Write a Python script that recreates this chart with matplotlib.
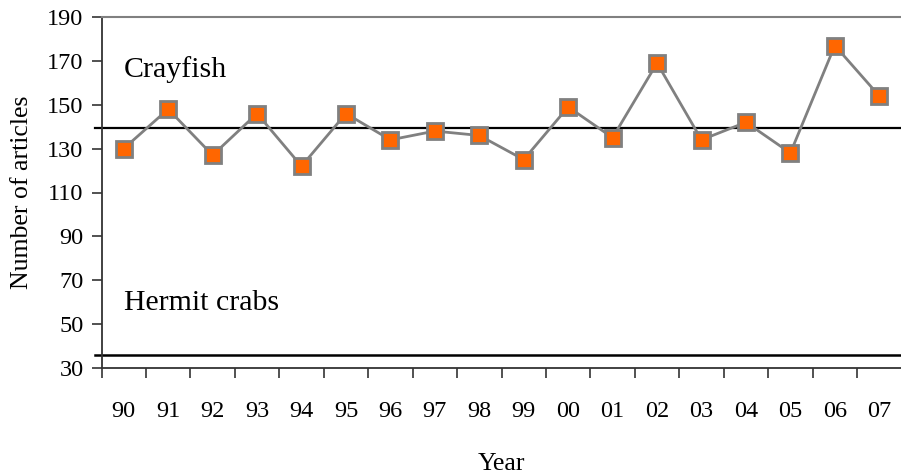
import matplotlib.pyplot as plt
import numpy as np

years = ["90", "91", "92", "93", "94", "95", "96", "97", "98", "99",
         "00", "01", "02", "03", "04", "05", "06", "07"]
crayfish = [130, 148, 127, 146, 122, 146, 134, 138, 136, 125,
            149, 135, 169, 134, 142, 128, 177, 154]
crayfish_level = 139.3
hermit_level = 36

plt.rcParams["font.family"] = ["Liberation Serif", "DejaVu Serif"]

fig = plt.figure(figsize=(9.01, 4.74), dpi=100)
ax = fig.add_axes([101.5 / 901, 1 - 368 / 474, 800 / 901, 351 / 474])

x = np.arange(len(years))
ax.plot(x, crayfish, color="#808080", lw=2, marker="s", markersize=11,
        markerfacecolor="#FF6600", markeredgecolor="#808080", markeredgewidth=2,
        zorder=3)

# reference lines run a little past the y axis
ax.plot([-0.65, len(years) - 0.5], [crayfish_level] * 2, color="black", lw=1.6,
        clip_on=False, zorder=2)
ax.plot([-0.65, len(years) - 0.5], [hermit_level] * 2, color="black", lw=1.8,
        clip_on=False, zorder=2)

ax.text(0.0, 166, "Crayfish", fontsize=21.5, ha="left", va="center")
ax.text(0.0, 59.5, "Hermit crabs", fontsize=21.5, ha="left", va="center")

ax.set_xlim(-0.5, len(years) - 0.5)
ax.set_ylim(30, 190)
ax.set_yticks(range(30, 191, 20))
ax.set_xticks(x)
ax.set_xticklabels(years)
ax.set_xticks(np.arange(-0.5, len(years), 1), minor=True)
ax.tick_params(axis="x", which="major", length=0, pad=24, labelsize=17.5)
ax.tick_params(axis="x", which="minor", length=7, width=1.2, color="#333333")
ax.tick_params(axis="y", length=7, width=1.2, pad=6, labelsize=17.5, color="#333333")

for side in ["left", "bottom"]:
    ax.spines[side].set_color("#333333")
    ax.spines[side].set_linewidth(1.3)
ax.spines["top"].set_color("#808080")
ax.spines["top"].set_linewidth(1.5)
ax.spines["right"].set_visible(False)

ax.set_xlabel("Year", fontsize=18.5, labelpad=22)
ax.set_ylabel("Number of articles", fontsize=18.5, labelpad=10)

fig.savefig("out.png", dpi=100)
